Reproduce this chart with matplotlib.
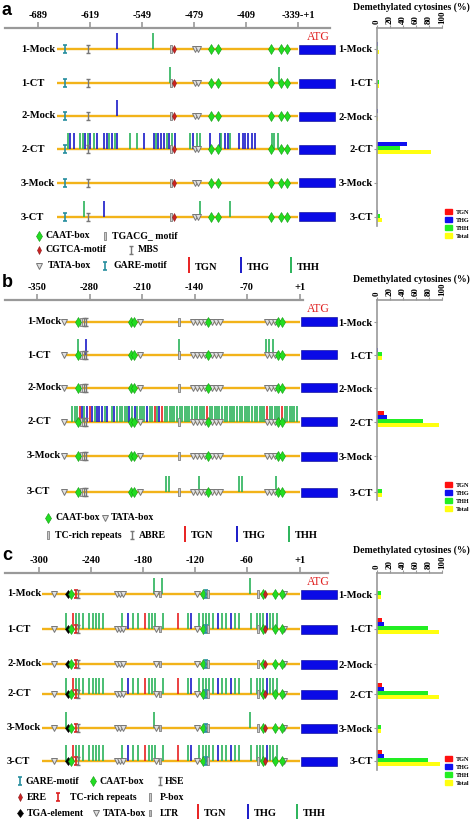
import numpy as np
import matplotlib
matplotlib.use("Agg")
import matplotlib.pyplot as plt
from matplotlib.patches import Rectangle, Patch
from matplotlib.path import Path

W, H = 472, 819
SERIF = "Liberation Serif"

ROWS = ["1-Mock", "1-CT", "2-Mock", "2-CT", "3-Mock", "3-CT"]
BAR_NAMES = ["TGN", "THG", "THH", "Total"]
BAR_COLORS = ["#FF1010", "#1010F0", "#22EE22", "#FFFF10"]
SITE_COLORS = {"TGN": "#E82020", "THG": "#1A1AC8", "THH": "#2BB35A"}

# ---- panel a: promoter positions (bp) ----
A_TICKS = [-689, -619, -549, -479, -409, -339]
A_TICKLABELS = ["-689", "-619", "-549", "-479", "-409", "-339-+1"]
A_ELEMENTS = {
  "GARE-motif": [-653],
  "MBS": [-622],
  "TGACG_ motif": [-510],
  "CGTCA-motif": [-506],
  "TATA-box": [-478, -474],
  "CAAT-box": [-456, -447, -375, -362, -354],
}
A_TGN = [[], [], [], [], [], []]
A_THG = [[-583], [], [-583],
         [-646, -641, -626, -619, -610, -600, -596, -589, -582, -546, -533,
          -527, -523, -520, -512, -504, -480, -458, -444, -437, -433, -418,
          -413, -410, -406, -401, -397],
         [], [-600]]
A_THH = [[-534], [-511, -365], [],
         [-649, -632, -629, -622, -614, -593, -585, -565, -556, -530, -516,
          -509, -484, -475, -471, -442, -430, -374, -371, -366],
         [], [-627, -471, -431]]
A_BAR_TGN = [0, 0, 0, 0, 0, 0]
A_BAR_THG = [1, 0, 1, 46, 0, 1]
A_BAR_THH = [1, 3, 0, 35, 0, 4]
A_BAR_TOTAL = [3, 3, 1, 83, 0, 7]

# ---- panel b ----
B_TICKS = [-350, -280, -210, -140, -70, 1]
B_TICKLABELS = ["-350", "-280", "-210", "-140", "-70", "+1"]
B_ELEMENTS = {
  "TATA-box": [-314, -213, -142, -137, -131, -126, -117, -111, -106, -43, -38, -33],
  "TC-rich repeats": [-291, -161],
  "ABRE": [-288, -285],
  "CAAT-box": [-295, -225, -221, -122, -29, -23],
}
B_TGN = [[], [], [], [-293, -280, -193, -183, -123, -43, -23], [], []]
B_THG = [[], [-285], [],
         [-290, -283, -277, -270, -267, -263, -257, -247, -227, -220, -203, -187],
         [], []]
B_THH = [[], [-295, -161, -45, -41, -36], [],
         [-303, -300, -297, -287, -273, -260, -250, -243, -240, -237, -233,
          -230, -223, -217, -213, -210, -207, -200, -197, -190, -180, -177,
          -173, -170, -167, -163, -160, -157, -153, -150, -147, -143, -140,
          -137, -133, -130, -127, -120, -117, -113, -110, -107, -103, -100,
          -97, -93, -90, -87, -83, -80, -77, -73, -70, -67, -63, -60, -57,
          -53, -50, -47, -40, -37, -33, -30, -27, -20, -17, -13, -10, -7, -3],
         [], [-178, -174, -134, -81, -77, -31]]
B_BAR_TGN = [0, 0, 0, 10, 0, 0]
B_BAR_THG = [0, 1, 0, 15, 0, 0]
B_BAR_THH = [0, 7, 0, 70, 0, 7]
B_BAR_TOTAL = [0, 7, 0, 95, 0, 7]

# ---- panel c ----
C_TICKS = [-300, -240, -180, -120, -60, 1]
C_TICKLABELS = ["-300", "-240", "-180", "-120", "-60", "+1"]
C_ELEMENTS = {
  "TATA-box": [-283, -210, -207, -203, -165, -118, -17],
  "TGA-element": [-267],
  "CAAT-box": [-263, -111, -42, -28, -20],
  "ERE": [-39],
  "TC-rich repeats": [-257],
  "HSE": [-255],
  "LTR": [-160],
  "GARE-motif": [-107],
  "P-box": [-105, -47],
}
C_CT_TGN = [-261, -178, -140]
C_CT_THG = [-197, -125, -94, -79, -37]
C_CT_THH = [-269, -257, -254, -249, -242, -238, -234, -231, -226, -204, -192,
            -186, -173, -170, -166, -157, -128, -115, -111, -107, -104, -99,
            -89, -84, -74, -69, -55, -49, -45, -42, -34, -30, -25]
C_TGN = [[], C_CT_TGN, [], C_CT_TGN, [], C_CT_TGN]
C_THG = [[], C_CT_THG, [], C_CT_THG, [], C_CT_THG]
C_THH = [[-167, -158, -57], C_CT_THH, [], C_CT_THH, [-269, -167, -57], C_CT_THH]
C_BAR_TGN = [0, 7, 0, 7, 0, 7]
C_BAR_THG = [0, 10, 0, 10, 0, 10]
C_BAR_THH = [6, 78, 0, 78, 6, 78]
C_BAR_TOTAL = [6, 96, 0, 96, 6, 97]

# ---- marker shapes ----
RECT = Path([(-0.3, -1), (0.3, -1), (0.3, 1), (-0.3, 1), (-0.3, -1)],
            [Path.MOVETO, Path.LINETO, Path.LINETO, Path.LINETO, Path.CLOSEPOLY])
IBEAM = Path([(-0.5, 1), (0.5, 1), (0, 1), (0, -1), (-0.5, -1), (0.5, -1)],
             [Path.MOVETO, Path.LINETO, Path.MOVETO, Path.LINETO, Path.MOVETO, Path.LINETO])

S_CAAT = dict(marker="d", ms=5, mfc="#22DD22", mec="#119911", mew=0.4)
S_TATA = dict(marker="v", ms=4, mfc="#E0E0E0", mec="#777777", mew=0.7)
S_GRAYRECT = dict(marker=RECT, ms=6, mfc="#CCCCCC", mec="#808080", mew=0.6)
S_GRAYI = dict(marker=IBEAM, ms=6, mfc="none", mec="#777777", mew=1.0)
S_GARE = dict(marker=IBEAM, ms=6, mfc="none", mec="#2A90A0", mew=1.2)
S_REDDIA = dict(marker="d", ms=4, mfc="#CC2222", mec="#8B1A1A", mew=0.4)
S_REDI = dict(marker=IBEAM, ms=6, mfc="none", mec="#DD2222", mew=1.2)
S_TGA = dict(marker="d", ms=4.5, mfc="black", mec="black", mew=0.4)
S_LTR = dict(marker=RECT, ms=4, mfc="#BBBBBB", mec="#808080", mew=0.6)

A_STYLES = {"GARE-motif": S_GARE, "MBS": S_GRAYI, "TGACG_ motif": S_GRAYRECT,
            "CGTCA-motif": S_REDDIA, "TATA-box": S_TATA, "CAAT-box": S_CAAT}
B_STYLES = {"TATA-box": S_TATA, "TC-rich repeats": S_GRAYRECT, "ABRE": S_GRAYI,
            "CAAT-box": S_CAAT}
C_STYLES = {"TATA-box": S_TATA, "TGA-element": S_TGA, "CAAT-box": S_CAAT,
            "ERE": S_REDDIA, "TC-rich repeats": S_REDI, "HSE": S_GRAYI,
            "LTR": S_LTR, "GARE-motif": S_GARE, "P-box": S_GRAYRECT}

BOLD = dict(family=SERIF, fontweight="bold")
BAR_OFFS = [-9, -5, -1, 3]

fig = plt.figure(figsize=(W / 100, H / 100), dpi=100)
ov = fig.add_axes([0, 0, 1, 1])
ov.set_xlim(0, W)
ov.set_ylim(H, 0)
ov.axis("off")


def draw_panel(top, bottom, p0, x0, k, ticks, ticklabels, axis_y, axis_x1,
               rows_y, label_x, line_start, elements, styles, tgn, thg, thh,
               bars, bar_bottom, barleg_y, letter, title_y, legend, leg_lines):
  ax = fig.add_axes([0, 1 - bottom / H, 340 / W, (bottom - top) / H])
  ax.set_xlim(p0 - x0 / k, p0 + (340 - x0) / k)
  ax.set_ylim(bottom, top)
  ax.axis("off")

  # position axis
  ax.axhline(axis_y, xmin=5 / 340, xmax=axis_x1 / 340, color="#999999", lw=1.6)
  ax.vlines(ticks, axis_y - 6, axis_y, color="#999999", lw=1.2)
  for t, lab in zip(ticks, ticklabels):
    ax.text(t, axis_y - 8, lab, ha="center", va="bottom", fontsize=7.5, **BOLD)
  ov.text(318, axis_y + 9, "ATG", ha="center", va="center", fontsize=8.5,
          family=SERIF, color="#E02020")

  end = ticks[-1]
  for i, y in enumerate(rows_y):
    ov.text(label_x, y, ROWS[i], ha="left", va="center", fontsize=7.6, **BOLD)
    ax.hlines(y, line_start, end, color="#F2B319", lw=1.7, zorder=1)
    ax.add_patch(Rectangle((end + 1, y - 4.5), 36 / k, 9, fc="#0A0AE6",
                           ec="#00008B", lw=0.4, zorder=2))
    ax.vlines(tgn[i], y - 16, y, color=SITE_COLORS["TGN"], lw=1.2, zorder=2)
    ax.vlines(thg[i], y - 16, y, color=SITE_COLORS["THG"], lw=1.2, zorder=2)
    ax.vlines(thh[i], y - 16, y, color=SITE_COLORS["THH"], lw=1.2, zorder=2)
    for name, pos in elements.items():
      ax.plot(pos, [y] * len(pos), ls="none", zorder=3, **styles[name])

  # element legend
  for name, xm, yl, xt in legend:
    ov.plot([xm], [yl], ls="none", **styles[name])
    ov.text(xt, yl, name, ha="left", va="center", fontsize=7, **BOLD)
  for j, key in enumerate(["TGN", "THG", "THH"]):
    xl, yl = leg_lines[j], leg_lines[3]
    ov.vlines(xl, yl - 9, yl + 7, color=SITE_COLORS[key], lw=1.4)
    ov.text(xl + 6, yl + 1, key, ha="left", va="center", fontsize=7.5, **BOLD)

  # demethylation bars
  bx = fig.add_axes([377 / W, 1 - bar_bottom / H, 65 / W, (bar_bottom - axis_y) / H])
  bx.set_xlim(0, 100)
  bx.set_ylim(bar_bottom, axis_y)
  for j in range(4):
    bx.barh(np.array(rows_y) + BAR_OFFS[j], bars[j], height=4,
            color=BAR_COLORS[j], edgecolor="none")
  bx.xaxis.tick_top()
  bx.set_xticks([0, 20, 40, 60, 80, 100])
  bx.set_xticklabels(["0", "20", "40", "60", "80", "100"], rotation=90,
                     fontsize=6.5, **BOLD)
  bx.set_yticks(rows_y)
  bx.set_yticklabels(ROWS, fontsize=7.6, **BOLD)
  bx.tick_params(length=2, color="#999999", pad=1)
  for s in ["right", "bottom"]:
    bx.spines[s].set_visible(False)
  for s in ["top", "left"]:
    bx.spines[s].set_color("#999999")
    bx.spines[s].set_linewidth(1.2)
  handles = [Patch(color=c) for c in BAR_COLORS]
  bx.legend(handles, BAR_NAMES, loc="upper left",
            bbox_to_anchor=(442 / W, 1 - (barleg_y - 4) / H),
            bbox_transform=fig.transFigure, frameon=False,
            prop=dict(family=SERIF, weight="bold", size=4.5),
            handlelength=1.1, handleheight=0.9, labelspacing=0.35,
            borderpad=0, handletextpad=0.7)

  ov.text(411, title_y, "Demethylated cytosines (%)", ha="center",
          va="center", fontsize=7, **BOLD)
  ov.text(2, top + 2, letter, ha="left", va="top", fontsize=13,
          family="Liberation Sans", fontweight="bold")


draw_panel(0, 272, -689, 38, 52 / 70, A_TICKS, A_TICKLABELS, 28, 330,
           [49, 83, 116, 149, 183, 217], 21, -663, A_ELEMENTS, A_STYLES,
           A_TGN, A_THG, A_THH,
           [A_BAR_TGN, A_BAR_THG, A_BAR_THH, A_BAR_TOTAL], 226, 210, "a", 7,
           [("CAAT-box", 39, 236, 46), ("TGACG_ motif", 105, 236, 112),
            ("CGTCA-motif", 39, 250, 46), ("MBS", 131, 250, 138),
            ("TATA-box", 39, 266, 48), ("GARE-motif", 105, 266, 113)],
           [189, 241, 291, 266])

draw_panel(272, 545, -350, 37, 52.5 / 70, B_TICKS, B_TICKLABELS, 300, 303,
           [322, 355, 388, 422, 456, 492], 27, -313, B_ELEMENTS, B_STYLES,
           B_TGN, B_THG, B_THH,
           [B_BAR_TGN, B_BAR_THG, B_BAR_THH, B_BAR_TOTAL], 500, 483, "b", 279,
           [("CAAT-box", 48, 518, 55), ("TATA-box", 105, 518, 111),
            ("TC-rich repeats", 48, 535, 55), ("ABRE", 132, 535, 139)],
           [185, 237, 289, 535])

draw_panel(545, 819, -300, 39, 52 / 60, C_TICKS, C_TICKLABELS, 573, 328,
           [594, 629, 664, 694, 728, 761], 7, -297, C_ELEMENTS, C_STYLES,
           C_TGN, C_THG, C_THH,
           [C_BAR_TGN, C_BAR_THG, C_BAR_THH, C_BAR_TOTAL], 770, 757, "c", 550,
           [("GARE-motif", 20, 781, 25), ("CAAT-box", 93, 781, 100),
            ("HSE", 160, 781, 165), ("ERE", 20, 797, 27),
            ("TC-rich repeats", 58, 797, 70), ("P-box", 150, 797, 160),
            ("TGA-element", 20, 813, 27), ("TATA-box", 96, 813, 103),
            ("LTR", 150, 813, 160)],
           [198, 248, 297, 813])

fig.savefig("out.png", dpi=100)
